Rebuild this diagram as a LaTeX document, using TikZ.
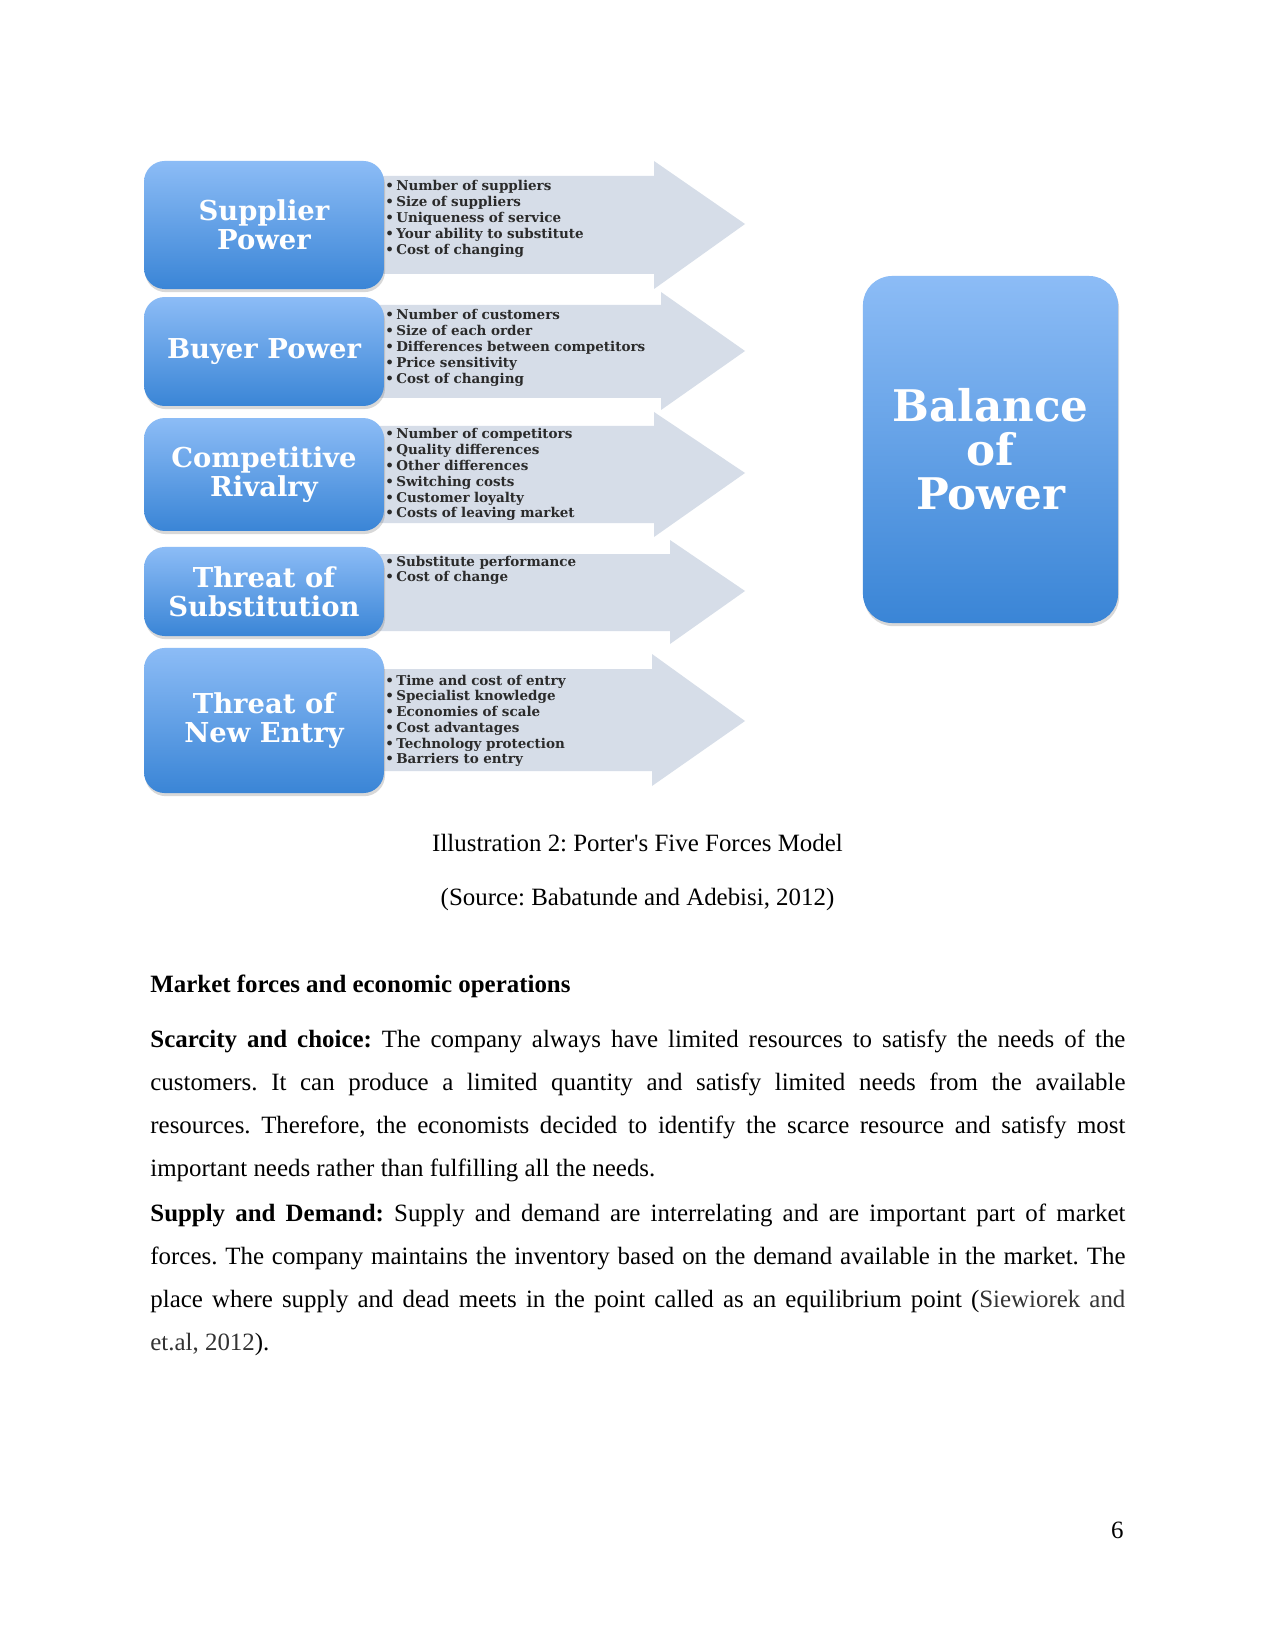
\documentclass[tikz,border=0pt]{standalone}
\usepackage{fontspec}
\setmainfont{Liberation Serif}[Ligatures=TeXOff]
\newfontfamily\forcefont{DejaVu Serif}
\usetikzlibrary{shadows}
\frenchspacing

\definecolor{boxtop}{HTML}{8CBCF6}
\definecolor{boxbot}{HTML}{3A85D6}
\definecolor{arrowgray}{HTML}{D6DDE8}
\definecolor{bullettext}{HTML}{2B2B2B}

\tikzset{
  forcebox/.style={rounded corners=10pt, top color=boxtop, bottom color=boxbot,
    text=white, align=center, inner sep=0pt, minimum width=115.6pt,
    font=\forcefont\bfseries\fontsize{13.2}{14}\selectfont,
    drop shadow={opacity=0.3, shadow xshift=0.5pt, shadow yshift=-1.5pt}},
  forcearrow/.style={fill=arrowgray},
  factorlist/.style={anchor=base west, inner sep=0pt, text width=180pt, align=left,
    text=bullettext, font=\forcefont\bfseries\fontsize{6.5}{7.6}\selectfont},
  bodytext/.style={anchor=base west, inner sep=0pt, text width=6.5in, align=justify,
    font=\fontsize{12}{20.72}\selectfont}
}

\begin{document}
\begin{tikzpicture}[x=0.4818pt, y=-0.4818pt]
  % page frame
  \useasboundingbox[fill=white] (0,0) rectangle (1275,1650);

  % grey arrows behind the boxes
  \fill[forcearrow] (370,176) -- (654,176) -- (654,161) -- (745,224) -- (654,289) -- (654,274) -- (370,274) -- cycle;
  \fill[forcearrow] (370,305) -- (661,305) -- (661,292) -- (745,351) -- (661,410) -- (661,398) -- (370,398) -- cycle;
  \fill[forcearrow] (370,426) -- (654,426) -- (654,412) -- (745,473) -- (654,537) -- (654,523) -- (370,523) -- cycle;
  \fill[forcearrow] (370,554) -- (670,554) -- (670,540) -- (745,591) -- (670,644) -- (670,631) -- (370,631) -- cycle;
  \fill[forcearrow] (370,669) -- (652,669) -- (652,654) -- (745,721) -- (652,786) -- (652,771) -- (370,771) -- cycle;

  % the five forces
  \node[forcebox, minimum height=61.7pt] (supplier) at (264,225) {Supplier\\Power};
  \node[forcebox, minimum height=52.5pt] (buyer) at (264,351.5) {Buyer Power};
  \node[forcebox, minimum height=54.4pt] (rivalry) at (264,474.5) {Competitive\\Rivalry};
  \node[forcebox, minimum height=42.9pt] (substitution) at (264,591.5) {Threat of\\Substitution};
  \node[forcebox, minimum height=69.9pt] (newentry) at (264,720.5) {Threat of\\New Entry};

  % factors of each force
  \node[factorlist] (supplierlist) at (385,191) {\textbullet\,Number of suppliers\\\textbullet\,Size of suppliers\\\textbullet\,Uniqueness of service\\\textbullet\,Your ability to substitute\\\textbullet\,Cost of changing};
  \node[factorlist] (buyerlist) at (385,320) {\textbullet\,Number of customers\\\textbullet\,Size of each order\\\textbullet\,Differences between competitors\\\textbullet\,Price sensitivity\\\textbullet\,Cost of changing};
  \node[factorlist] (rivalrylist) at (385,439) {\textbullet\,Number of competitors\\\textbullet\,Quality differences\\\textbullet\,Other differences\\\textbullet\,Switching costs\\\textbullet\,Customer loyalty\\\textbullet\,Costs of leaving market};
  \node[factorlist] (substitutionlist) at (385,566) {\textbullet\,Substitute performance\\\textbullet\,Cost of change};
  \node[factorlist] (newentrylist) at (385,685) {\textbullet\,Time and cost of entry\\\textbullet\,Specialist knowledge\\\textbullet\,Economies of scale\\\textbullet\,Cost advantages\\\textbullet\,Technology protection\\\textbullet\,Barriers to entry};

  % result box
  \node[forcebox, rounded corners=14pt, minimum width=122.9pt, minimum height=167.2pt,
    font=\forcefont\bfseries\fontsize{21}{21.3}\selectfont] (balance) at (990.5,449.5) {Balance\\of\\Power};

  % caption
  \node[anchor=base, inner sep=0pt, font=\fontsize{12}{14}\selectfont] (caption) at (637.5,851) {Illustration 2: Porter's Five Forces Model};
  \node[anchor=base, inner sep=0pt, font=\fontsize{12}{14}\selectfont] (source) at (637.5,905) {(Source: Babatunde and Adebisi, 2012)};

  % text of the page
  \node[anchor=base west, inner sep=0pt, font=\fontsize{12}{14}\selectfont\bfseries] (heading) at (150,992) {Market forces and economic operations};
  \node[bodytext] (scarcity) at (150,1047) {\tolerance=9999\textbf{Scarcity and choice:} The company always have limited resources to satisfy the needs of the\linebreak customers. It can produce a limited quantity and satisfy limited needs from the available\linebreak resources. Therefore, the economists decided to identify the scarce resource and satisfy most\linebreak important needs rather than fulfilling all the needs.};
  \node[bodytext] (supply) at (150,1221) {\tolerance=9999\textbf{Supply and Demand:} Supply and demand are interrelating and are important part of market\linebreak forces. The company maintains the inventory based on the demand available in the market. The\linebreak place where supply and dead meets in the point called as an equilibrium point ({\color{black!80}Siewiorek and}\linebreak {\color{black!80}et.al, 2012}).};

  % page number
  \node[anchor=base east, inner sep=0pt, font=\fontsize{12}{14}\selectfont] (pagenum) at (1124,1538) {6};
\end{tikzpicture}
\end{document}
